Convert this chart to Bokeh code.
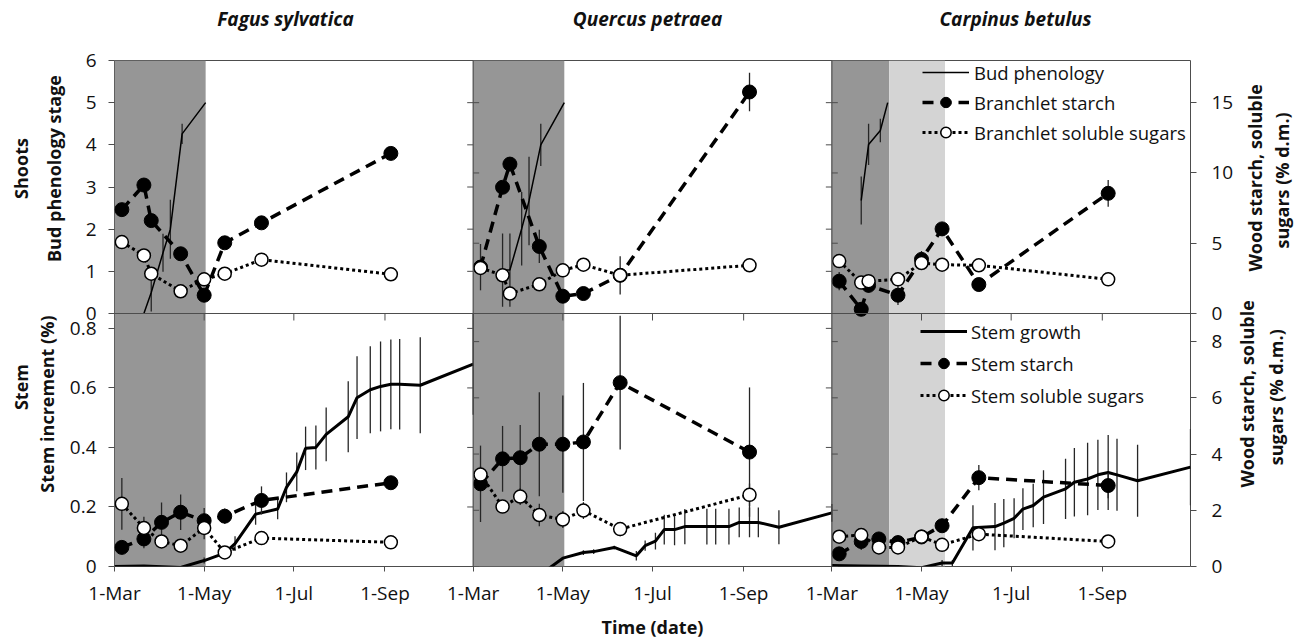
import pandas as pd
from bokeh.plotting import figure
from bokeh.models import (Range1d, LinearAxis, FixedTicker, BoxAnnotation, Span, Label,
                          Legend, LegendItem)
from bokeh.layouts import row, column
from bokeh.embed import file_html
from bokeh.resources import INLINE

YEAR = 2011
FONT = "Open Sans"

# ---------------- data ----------------
species = ["Fagus sylvatica", "Quercus petraea", "Carpinus betulus"]
x_limits = ["03-01", "10-31"]
x_tick_dates = ["03-01", "05-01", "07-01", "09-01"]
x_tick_labels = ["1-Mar", "1-May", "1-Jul", "1-Sep"]

dark_until = ["05-02", "05-02", "04-09"]
light_until = [None, None, "05-17"]

shoot_left_ticks = [0, 1, 2, 3, 4, 5, 6]
shoot_left_labels = ["0", "1", "2", "3", "4", "5", "6"]
shoot_right_ticks = [0, 5, 10, 15]
shoot_right_labels = ["0", "5", "10", "15"]
stem_left_ticks = [0, 0.2, 0.4, 0.6, 0.8]
stem_left_labels = ["0", "0.2", "0.4", "0.6", "0.8"]
stem_right_ticks = [0, 2, 4, 6, 8]
stem_right_labels = ["0", "2", "4", "6", "8"]
shoot_left_max = 6
shoot_right_max = 18
stem_left_max = 0.85
stem_right_max = 9

# bud phenology (shoots, left axis)
fagus_phen_dates = ["03-21", "03-26", "04-03", "04-08", "04-16", "05-02"]
fagus_phen = [0.0, 0.5, 1.44, 2.0, 4.26, 5.0]
fagus_phen_err = [0.0, 0.45, 0.45, 0.7, 0.24, 0.0]
quercus_phen_dates = ["03-21", "03-26", "04-03", "04-08", "04-16", "05-02"]
quercus_phen = [1.03, 1.03, 2.01, 2.67, 4.0, 5.0]
quercus_phen_err = [0.87, 0.87, 0.87, 1.05, 0.5, 0.0]
carpinus_phen_dates = ["03-21", "03-26", "04-03", "04-08"]
carpinus_phen = [2.68, 4.01, 4.34, 5.0]
carpinus_phen_err = [0.57, 0.49, 0.28, 0.0]

# branchlet carbohydrates (shoots, right axis)
branch_dates = ["03-06", "03-21", "03-26", "04-15", "05-01", "05-15", "06-09", "09-05"]
fagus_branch_starch = [7.39, 9.14, 6.61, 4.25, 1.30, 5.03, 6.45, 11.39]
fagus_branch_starch_err = [0.3, 0.3, 0.3, 0.3, 0.2, 0.3, 0.3, 0.4]
fagus_branch_sugars = [5.08, 4.13, 2.83, 1.58, 2.43, 2.83, 3.83, 2.79]
fagus_branch_sugars_err = [0.2, 0.2, 0.2, 0.2, 0.2, 0.2, 0.2, 0.2]
quercus_branch_starch = [3.3, 8.98, 10.63, 4.77, 1.23, 1.42, 2.72, 15.76]
quercus_branch_starch_err = [1.65, 0.4, 0.4, 1.18, 0.3, 0.3, 1.36, 1.37]
quercus_branch_sugars = [3.24, 2.72, 1.42, 2.08, 3.07, 3.47, 2.72, 3.43]
quercus_branch_sugars_err = [0.3, 0.3, 0.3, 0.3, 0.2, 0.2, 0.3, 0.2]
carpinus_branch_starch = [2.3, 0.3, 2.0, 1.3, 3.85, 6.02, 2.06, 8.55]
carpinus_branch_starch_err = [0.65, 0.3, 0.5, 0.7, 0.6, 0.3, 0.4, 0.95]
carpinus_branch_sugars = [3.73, 2.2, 2.3, 2.43, 3.59, 3.47, 3.43, 2.43]
carpinus_branch_sugars_err = [0.2, 0.2, 0.2, 0.2, 0.2, 0.2, 0.2, 0.2]

# stem growth (stem, left axis)
growth_dates = ["03-01", "03-21", "04-15", "05-01", "05-15", "05-22", "06-05", "06-20",
                "06-26", "07-03", "07-09", "07-16", "07-23", "08-07", "08-13", "08-22",
                "08-29", "09-05", "09-11", "09-25", "10-31"]
fagus_growth = [0.0, 0.002, -0.003, 0.02, 0.045, 0.077, 0.176, 0.193, 0.266, 0.318, 0.397,
                0.40, 0.444, 0.503, 0.567, 0.594, 0.605, 0.612, 0.612, 0.609, 0.68]
fagus_growth_err = [0, 0, 0, 0.01, 0.012, 0.025, 0.036, 0.034, 0.05, 0.065, 0.073,
                    0.074, 0.09, 0.119, 0.139, 0.146, 0.151, 0.151, 0.152, 0.161, 0.17]
quercus_growth = [-0.06, -0.06, -0.03, 0.028, 0.047, 0.05, 0.064, 0.036, 0.07, 0.085, 0.124,
                  0.124, 0.134, 0.134, 0.134, 0.134, 0.148, 0.148, 0.148, 0.132, 0.18]
quercus_growth_err = [0, 0, 0, 0, 0.008, 0.008, 0.006, 0.016, 0.017, 0.028, 0.05,
                      0.053, 0.059, 0.06, 0.06, 0.06, 0.05, 0.05, 0.05, 0.057, 0.03]
carpinus_growth = [0.003, 0.002, 0.0, -0.004, 0.012, 0.012, 0.13, 0.134, 0.146, 0.162, 0.193,
                   0.205, 0.233, 0.261, 0.283, 0.294, 0.308, 0.316, 0.308, 0.288, 0.334]
carpinus_growth_err = [0, 0, 0, 0, 0.01, 0.01, 0.076, 0.079, 0.081, 0.067, 0.07,
                       0.073, 0.09, 0.101, 0.115, 0.122, 0.118, 0.126, 0.121, 0.121, 0.128]

# stem carbohydrates (stem, right axis)
stem_dates = ["03-06", "03-21", "04-02", "04-15", "05-01", "05-15", "06-09", "09-05"]
fagus_stem_starch = [0.68, 0.98, 1.57, 1.93, 1.63, 1.79, 2.35, 2.98]
fagus_stem_starch_err = [0.2, 0.33, 0.71, 0.63, 0.45, 0.27, 0.5, 0.2]
fagus_stem_sugars = [2.23, 1.37, 0.89, 0.74, 1.37, 0.5, 1.01, 0.86]
fagus_stem_sugars_err = [0.92, 0.4, 0.2, 0.2, 0.4, 0.15, 0.15, 0.1]
quercus_stem_starch = [2.94, 3.83, 3.87, 4.35, 4.35, 4.43, 6.54, 4.07]
quercus_stem_starch_err = [1.36, 1.17, 1.16, 1.85, 1.73, 2.1, 2.38, 2.3]
quercus_stem_sugars = [3.27, 2.13, 2.49, 1.83, 1.67, 1.99, 1.33, 2.55]
quercus_stem_sugars_err = [0.3, 0.2, 0.3, 0.4, 0.3, 0.3, 0.25, 0.4]
carpinus_stem_starch = [0.45, 0.89, 0.98, 0.85, 1.05, 1.45, 3.16, 2.88]
carpinus_stem_starch_err = [0.15, 0.3, 0.2, 0.25, 0.2, 0.2, 0.45, 0.45]
carpinus_stem_sugars = [1.06, 1.12, 0.68, 0.68, 1.06, 0.77, 1.15, 0.89]
carpinus_stem_sugars_err = [0.15, 0.2, 0.15, 0.2, 0.2, 0.15, 0.1, 0.1]

left_titles = ["Shoots", "Bud phenology stage", "Stem", "Stem increment (%)"]
right_titles = ["Wood starch, soluble", "sugars (% d.m.)"]
x_title = "Time (date)"


def doy(dates):
    return pd.to_datetime([f"{YEAR}-{d}" for d in dates]).dayofyear.astype(float).tolist()


X_START, X_END = doy(x_limits)
SPAN_DAYS = X_END - X_START          # one species column spans 1-Mar .. 31-Oct


def xcol(dates, col):
    # species columns sit side by side on one shared time axis
    return [col * SPAN_DAYS + (v - X_START) for v in doy(dates)]


sets = [
    dict(phen_dates=fagus_phen_dates, phen=fagus_phen, phen_err=fagus_phen_err,
         bst=fagus_branch_starch, bst_e=fagus_branch_starch_err,
         bsu=fagus_branch_sugars, bsu_e=fagus_branch_sugars_err,
         g=fagus_growth, g_e=fagus_growth_err,
         sst=fagus_stem_starch, sst_e=fagus_stem_starch_err,
         ssu=fagus_stem_sugars, ssu_e=fagus_stem_sugars_err),
    dict(phen_dates=quercus_phen_dates, phen=quercus_phen, phen_err=quercus_phen_err,
         bst=quercus_branch_starch, bst_e=quercus_branch_starch_err,
         bsu=quercus_branch_sugars, bsu_e=quercus_branch_sugars_err,
         g=quercus_growth, g_e=quercus_growth_err,
         sst=quercus_stem_starch, sst_e=quercus_stem_starch_err,
         ssu=quercus_stem_sugars, ssu_e=quercus_stem_sugars_err),
    dict(phen_dates=carpinus_phen_dates, phen=carpinus_phen, phen_err=carpinus_phen_err,
         bst=carpinus_branch_starch, bst_e=carpinus_branch_starch_err,
         bsu=carpinus_branch_sugars, bsu_e=carpinus_branch_sugars_err,
         g=carpinus_growth, g_e=carpinus_growth_err,
         sst=carpinus_stem_starch, sst_e=carpinus_stem_starch_err,
         ssu=carpinus_stem_sugars, ssu_e=carpinus_stem_sugars_err),
]

# ---------------- styling / layout ----------------
TOTAL_W, TOTAL_H = 1299, 641
TITLE_H = 46                          # strip with species names
FRAME_W, PANEL_H = 1080, 253
TOP_B = 14
BOTTOM_B = TOTAL_H - TITLE_H - TOP_B - 2 * PANEL_H   # 75
LABEL_L_W, AXIS_L_B = 66, 46
AXIS_R_B = 44
LABEL_R_W = TOTAL_W - LABEL_L_W - AXIS_L_B - FRAME_W - AXIS_R_B   # 63
BODY_H = TOTAL_H - TITLE_H
PX_PER_DAY = FRAME_W / (3 * SPAN_DAYS)
DARK = "#969696"
LIGHT = "#d4d4d4"
INK = "#111111"
FRAME_C = "#4d4d4d"
ERR_C = "#262626"


def panel_pos(values, vmax, upper):
    # y position in the 0..2 panel coordinate: upper half = shoots, lower half = stem
    return [(1 + v / vmax) if upper else (v / vmax) for v in values]


def style_axis(ax, tick_out=6, standoff=14):
    ax.axis_line_color = None
    ax.major_tick_line_color = FRAME_C
    ax.major_tick_in = 0
    ax.major_tick_out = tick_out
    ax.minor_tick_line_color = None
    ax.major_label_text_font = FONT
    ax.major_label_text_font_size = "19px"
    ax.major_label_text_color = INK
    ax.major_label_standoff = standoff


def errbars(p, x, y, e, rn):
    lo = [a - b for a, b in zip(y, e)]
    hi = [a + b for a, b in zip(y, e)]
    p.segment(x0=x, y0=lo, x1=x, y1=hi, y_range_name=rn, line_color=ERR_C, line_width=1.3)


def starch_sugar(p, x, starch, starch_err, sugars, sugars_err, rn):
    errbars(p, x, starch, starch_err, rn)
    errbars(p, x, sugars, sugars_err, rn)
    sl = p.line(x, starch, y_range_name=rn, line_color="black", line_width=3.5,
                line_dash="11 7")
    sp = p.scatter(x, starch, y_range_name=rn, marker="circle", size=14,
                   fill_color="black", line_color="black")
    ul = p.line(x, sugars, y_range_name=rn, line_color="black", line_width=3,
                line_dash="3 3")
    up = p.scatter(x, sugars, y_range_name=rn, marker="circle", size=13,
                   fill_color="white", line_color="black", line_width=1.5)
    return sl, sp, ul, up


def strip(width, height, items, angle, y0, size="18px", style="bold"):
    s = figure(width=width, height=height, x_range=Range1d(0, width),
               y_range=Range1d(0, height), x_axis_location=None, y_axis_location=None,
               output_backend="svg", toolbar_location=None, min_border=0,
               min_border_left=0, min_border_right=0, min_border_top=0, min_border_bottom=0)
    s.grid.visible = False
    s.outline_line_color = None
    s.border_fill_color = "white"
    s.background_fill_color = "white"
    for text, x, y in items:
        s.add_layout(Label(x=x, y=height - (y - y0), text=text, angle=angle,
                           angle_units="deg", text_align="center", text_baseline="middle",
                           text_font=FONT, text_font_size=size, text_font_style=style,
                           text_color=INK))
    return s


# ---------------- main plot ----------------
p = figure(width=AXIS_L_B + FRAME_W + AXIS_R_B, height=BODY_H,
           x_range=Range1d(0, 3 * SPAN_DAYS), y_range=Range1d(0, 2),
           x_axis_location=None, y_axis_location=None,
           output_backend="svg", toolbar_location=None,
           min_border=0, min_border_left=AXIS_L_B, min_border_right=AXIS_R_B,
           min_border_top=TOP_B, min_border_bottom=BOTTOM_B)
p.extra_y_ranges = {
    "phen": Range1d(-shoot_left_max, shoot_left_max),
    "branch": Range1d(-shoot_right_max, shoot_right_max),
    "growth": Range1d(0, 2 * stem_left_max),
    "stemcarb": Range1d(0, 2 * stem_right_max),
}
p.grid.visible = False
p.outline_line_color = FRAME_C
p.border_fill_color = "white"
p.background_fill_color = "white"

legend_items = {}
for col in range(3):
    d = sets[col]
    x0 = col * SPAN_DAYS
    dark_end = xcol([dark_until[col]], col)[0]
    p.add_layout(BoxAnnotation(left=x0, right=dark_end, fill_color=DARK, fill_alpha=1,
                               line_color=None, level="underlay"))
    if light_until[col] is not None:
        p.add_layout(BoxAnnotation(left=dark_end, right=xcol([light_until[col]], col)[0],
                                   fill_color=LIGHT, fill_alpha=1, line_color=None,
                                   level="underlay"))

    # shoots (upper half)
    xp = xcol(d["phen_dates"], col)
    xb = xcol(branch_dates, col)
    errbars(p, xp, d["phen"], d["phen_err"], "phen")
    pl = p.line(xp, d["phen"], y_range_name="phen", line_color="black", line_width=1.5)
    sl, sp, ul, up = starch_sugar(p, xb, d["bst"], d["bst_e"], d["bsu"], d["bsu_e"], "branch")

    # stem (lower half)
    xg = xcol(growth_dates, col)
    xs = xcol(stem_dates, col)
    errbars(p, xg, d["g"], d["g_e"], "growth")
    gl = p.line(xg, d["g"], y_range_name="growth", line_color="black", line_width=3)
    sl2, sp2, ul2, up2 = starch_sugar(p, xs, d["sst"], d["sst_e"], d["ssu"], d["ssu_e"],
                                      "stemcarb")
    if col == 2:
        legend_items = dict(pl=pl, sl=sl, sp=sp, ul=ul, up=up, gl=gl,
                            sl2=sl2, sp2=sp2, ul2=ul2, up2=up2)

# panel separators and the little ticks that cross them
p.add_layout(Span(location=1, dimension="width", line_color=FRAME_C, line_width=1.2))
for b in [SPAN_DAYS, 2 * SPAN_DAYS]:
    p.add_layout(Span(location=b, dimension="height", line_color=FRAME_C, line_width=1.2))

tick_days = 6 / PX_PER_DAY
tick_units = 7 / PANEL_H
all_x_ticks = [t for col in range(3) for t in xcol(x_tick_dates, col)]
inner_x = [t for t in all_x_ticks if (t % SPAN_DAYS) != 0]
p.segment(x0=inner_x, y0=[1] * len(inner_x), x1=inner_x, y1=[1 - tick_units] * len(inner_x),
          line_color=FRAME_C, line_width=1)
left_pos = panel_pos(shoot_left_ticks, shoot_left_max, True) + \
    panel_pos(stem_left_ticks, stem_left_max, False)
right_pos = panel_pos(shoot_right_ticks, shoot_right_max, True) + \
    panel_pos(stem_right_ticks, stem_right_max, False)
for b in [SPAN_DAYS, 2 * SPAN_DAYS]:
    p.segment(x0=[b - tick_days] * len(left_pos), y0=left_pos, x1=[b] * len(left_pos),
              y1=left_pos, line_color=FRAME_C, line_width=1)
    p.segment(x0=[b] * len(right_pos), y0=right_pos, x1=[b + tick_days] * len(right_pos),
              y1=right_pos, line_color=FRAME_C, line_width=1)

# x axis (dates repeated for each species)
all_x_labels = [l for col in range(3) for l in x_tick_labels]
xa = LinearAxis(ticker=FixedTicker(ticks=all_x_ticks, minor_ticks=[]),
                major_label_overrides={t: l for t, l in zip(all_x_ticks, all_x_labels)})
style_axis(xa, 5, 8)
xa.axis_label = x_title
xa.axis_label_standoff = 6
xa.axis_label_text_font = FONT
xa.axis_label_text_font_size = "18px"
xa.axis_label_text_font_style = "bold"
xa.axis_label_text_color = INK
p.add_layout(xa, "below")

# y axes
la = LinearAxis(ticker=FixedTicker(ticks=left_pos, minor_ticks=[]),
                major_label_overrides={k: v for k, v in
                                       zip(left_pos, shoot_left_labels + stem_left_labels)})
style_axis(la, 6, 12)
p.add_layout(la, "left")
ra = LinearAxis(ticker=FixedTicker(ticks=right_pos, minor_ticks=[]),
                major_label_overrides={k: v for k, v in
                                       zip(right_pos, shoot_right_labels + stem_right_labels)})
style_axis(ra, 6, 15)
p.add_layout(ra, "right")

# legends (inside the Carpinus column)
legend_kw = dict(background_fill_alpha=0, border_line_color=None, padding=0, margin=0,
                 glyph_width=47, glyph_height=26, label_height=26,
                 label_text_font=FONT, label_text_font_size="18.5px", label_text_color=INK)
L = legend_items
col2_px = 2 * SPAN_DAYS * PX_PER_DAY
leg = Legend(items=[LegendItem(label="Bud phenology", renderers=[L["pl"]]),
                    LegendItem(label="Branchlet starch", renderers=[L["sl"], L["sp"]]),
                    LegendItem(label="Branchlet soluble sugars", renderers=[L["ul"], L["up"]])],
             location=(col2_px + 88, 421), spacing=4, label_standoff=5, **legend_kw)
p.add_layout(leg)
leg2 = Legend(items=[LegendItem(label="Stem growth", renderers=[L["gl"]]),
                     LegendItem(label="Stem starch", renderers=[L["sl2"], L["sp2"]]),
                     LegendItem(label="Stem soluble sugars", renderers=[L["ul2"], L["up2"]])],
              location=(col2_px + 86, 158), spacing=6, label_standoff=4, **legend_kw)
p.add_layout(leg2)

# ---------------- title strips (positions in page pixels) ----------------
top_strip = strip(TOTAL_W, TITLE_H, [(species[0], 285, 18), (species[1], 647, 18),
                                     (species[2], 1015, 18)], 0, 0, "19px", "bold italic")
left_strip = strip(LABEL_L_W, BODY_H, [(left_titles[0], 20, 173), (left_titles[1], 53, 173),
                                       (left_titles[2], 20, 430), (left_titles[3], 46, 450)],
                   90, TITLE_H)
RX = LABEL_L_W + AXIS_L_B + FRAME_W + AXIS_R_B
right_strip = strip(LABEL_R_W, BODY_H, [(right_titles[0], 1254 - RX, 184),
                                        (right_titles[1], 1281 - RX, 187),
                                        (right_titles[0], 1246 - RX, 438),
                                        (right_titles[1], 1275 - RX, 442)], 90, TITLE_H)

layout = column(top_strip, row(left_strip, p, right_strip))
open("out.html", "w").write(file_html(layout, INLINE))
